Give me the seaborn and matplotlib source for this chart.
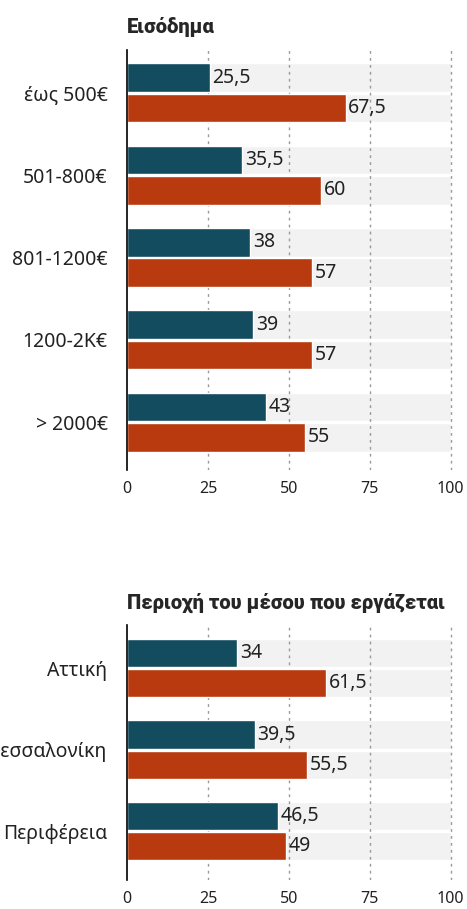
import pandas as pd
import matplotlib.pyplot as plt
import seaborn as sns

# Δεδομένα
eisodima_cat = ["έως 500€", "501-800€", "801-1200€", "1200-2K€", "> 2000€"]
eisodima_a = [25.5, 35.5, 38, 39, 43]
eisodima_b = [67.5, 60, 57, 57, 55]

perioxi_cat = ["Αττική", "Θεσσαλονίκη", "Περιφέρεια"]
perioxi_a = [34, 39.5, 46.5]
perioxi_b = [61.5, 55.5, 49]

series = ["Α", "Β"]
xticks = [0, 25, 50, 75, 100]

blue = "#134b5f"
red = "#b83a0e"

sns.set_style("white")
plt.rcParams['font.family'] = ['Noto Sans', 'DejaVu Sans']


def make_df(cats, a, b):
    return pd.DataFrame({
        "cat": cats + cats,
        "value": a + b,
        "series": [series[0]] * len(cats) + [series[1]] * len(cats),
    })


def draw(ax, cats, a, b, title, ylim):
    df = make_df(cats, a, b)
    bg = df.copy()
    bg["value"] = 100
    sns.barplot(data=bg, x="value", y="cat", hue="series", orient="h",
                palette=["#f2f2f2", "#f2f2f2"], width=0.74, gap=0.06,
                saturation=1, legend=False, ax=ax, zorder=1)
    sns.barplot(data=df, x="value", y="cat", hue="series", orient="h",
                palette=[blue, red], width=0.74, gap=0.06,
                saturation=1, legend=False, ax=ax, zorder=3)
    # ετικέτες τιμών
    for cont in ax.containers[2:]:
        labels = [f"{v:g}".replace(".", ",") for v in cont.datavalues]
        ax.bar_label(cont, labels=labels, padding=2, fontsize=14,
                     color="#222222")
    ax.set_xlim(0, 101)
    ax.set_ylim(*ylim)
    ax.set_xticks(xticks)
    ax.set_xlabel("")
    ax.set_ylabel("")
    ax.tick_params(axis="x", length=0, pad=8, labelsize=11.5, colors="#222222")
    ax.tick_params(axis="y", length=0, pad=14, labelsize=14, colors="#222222")
    for x in xticks[1:]:
        ax.axvline(x, color="#999999", linestyle=(0, (2, 3)), linewidth=1, zorder=2)
    for s in ["top", "right", "bottom"]:
        ax.spines[s].set_visible(False)
    ax.spines["left"].set_color("black")
    ax.spines["left"].set_linewidth(1.2)
    ax.spines["left"].set_zorder(5)
    ax.set_title(title, loc="left", fontsize=14.5, fontweight=900,
                 family=["Roboto", "DejaVu Sans"], pad=12)


fig = plt.figure(figsize=(4.67, 9.09), dpi=100)
ax1 = fig.add_axes([127 / 467, 1 - 470 / 909, 327 / 467, 420 / 909])
ax2 = fig.add_axes([127 / 467, 1 - 880 / 909, 327 / 467, 255 / 909])

draw(ax1, eisodima_cat, eisodima_a, eisodima_b, "Εισόδημα", (4.58, -0.52))
draw(ax2, perioxi_cat, perioxi_a, perioxi_b, "Περιοχή του μέσου που εργάζεται", (2.6, -0.53))

fig.savefig("out.png", dpi=100)
